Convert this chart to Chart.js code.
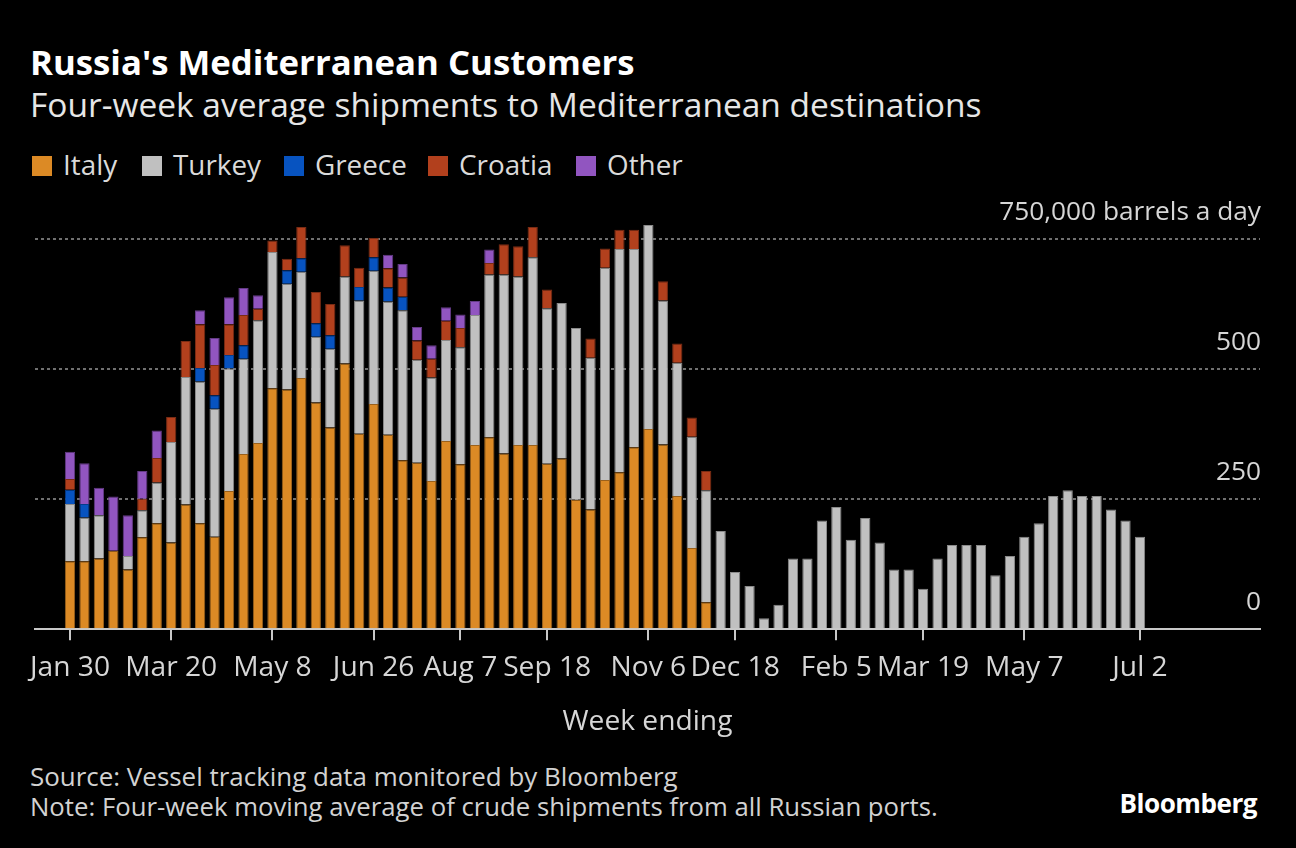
<!DOCTYPE html>
<html>
<head>
<meta charset="utf-8">
<script src="https://cdn.jsdelivr.net/npm/chart.js@4.4.0/dist/chart.umd.min.js"></script>
<style>
  html, body { margin:0; padding:0; background:#000; width:1296px; height:848px; overflow:hidden; font-family:"Open Sans", sans-serif; }
  .t { position:absolute; white-space:nowrap; line-height:1; }
  #title { font-weight:700; color:#ffffff; }
  #subtitle { color:#e6e6e6; }
  .leg { position:absolute; white-space:nowrap; line-height:1; color:#dadada; }
  .box { position:absolute; width:20px; height:20px; }
  #src, #note { color:#d2d2d2; }
  #logo { font-weight:700; color:#ffffff; letter-spacing:-0.5px; }
  #wrap { position:absolute; left:0; top:190px; width:1296px; height:560px; }
</style>
</head>
<body>
<div class="t" id="title">Russia's Mediterranean Customers</div>
<div class="t" id="subtitle">Four-week average shipments to Mediterranean destinations</div>
<div id="legend"></div>
<div id="wrap"><canvas id="c"></canvas></div>
<div class="t" id="src">Source: Vessel tracking data monitored by Bloomberg</div>
<div class="t" id="note">Note: Four-week moving average of crude shipments from all Russian ports.</div>
<div class="t" id="logo">Bloomberg</div>
<script>
// Series names and colours
const seriesNames = ['Italy', 'Turkey', 'Greece', 'Croatia', 'Other'];
const seriesColors = ['#dc8a25', '#c0c0c0', '#0753c0', '#b2401d', '#9155c0'];
const seriesBorders = ['#9a611c', '#8a8a8a', '#053c8a', '#7a2c14', '#643b86'];

// Weekly values (thousand barrels a day), week ending Jan 30 2022 .. Jul 2 2023
const italy = [131,131,136,151,115,177,204,167,240,204,178,266,337,358,463,461,483,436,388,511,376,433,374,325,320,285,362,317,354,369,338,354,354,318,328,249,230,287,302,350,385,355,256,156,52,0,0,0,0,0,0,0,0,0,0,0,0,0,0,0,0,0,0,0,0,0,0,0,0,0,0,0,0,0,0];
const turkey = [110,84,83,0,26,52,78,193,245,272,246,235,183,236,262,203,204,126,151,167,256,256,256,288,198,199,194,225,250,313,344,324,361,299,299,330,292,408,429,381,392,277,256,214,215,189,110,83,21,47,136,136,209,235,172,214,167,115,115,78,136,162,162,162,104,141,178,204,256,267,256,256,230,209,178];
const greece = [27,26,0,0,0,0,0,0,0,26,26,26,26,0,0,26,26,26,26,0,26,26,27,26,0,0,0,0,0,0,0,0,0,0,0,0,0,0,0,0,0,0,0,0,0,0,0,0,0,0,0,0,0,0,0,0,0,0,0,0,0,0,0,0,0,0,0,0,0,0,0,0,0,0,0];
const croatia = [21,0,0,0,0,22,47,48,69,84,58,59,58,22,22,22,60,60,60,60,37,37,37,37,37,36,37,37,0,22,58,58,58,36,0,0,37,37,37,37,0,37,37,37,37,0,0,0,0,0,0,0,0,0,0,0,0,0,0,0,0,0,0,0,0,0,0,0,0,0,0,0,0,0,0];
const other = [52,78,53,104,78,53,53,0,0,27,52,52,52,26,0,0,0,0,0,0,0,0,26,26,26,26,26,26,27,26,0,0,0,0,0,0,0,0,0,0,0,0,0,0,0,0,0,0,0,0,0,0,0,0,0,0,0,0,0,0,0,0,0,0,0,0,0,0,0,0,0,0,0,0,0];

// X-axis tick labels (week index -> label)
const xTickIndex = [0, 7, 14, 21, 27, 33, 40, 46, 53, 59, 66, 74];
const xTickLabels = ['Jan 30', 'Mar 20', 'May 8', 'Jun 26', 'Aug 7', 'Sep 18', 'Nov 6', 'Dec 18', 'Feb 5', 'Mar 19', 'May 7', 'Jul 2'];

// Y-axis ticks
const yTickValues = [0, 250, 500, 750];
const yTickLabels = ['0', '250', '500', '750,000 barrels a day'];

const seriesValues = [italy, turkey, greece, croatia, other];

// ---- text sizing helpers (fit font size to the reference text widths) ----
const FONT = '"Open Sans"';
const mctx = document.createElement('canvas').getContext('2d');
function fitPx(text, weight, target) {
  mctx.font = weight + ' 100px ' + FONT;
  return 100 * target / mctx.measureText(text).width;
}
function placeText(el, weight, target, left, baseline, right) {
  const s = fitPx(el.textContent, weight, target);
  el.style.fontSize = s + 'px';
  el.style.top = (baseline - 0.888 * s) + 'px';
  if (right !== undefined) el.style.right = (1296 - right) + 'px';
  else el.style.left = left + 'px';
}
placeText(document.getElementById('title'), 700, 605, 30, 76);
placeText(document.getElementById('subtitle'), 400, 952, 30, 118);
placeText(document.getElementById('src'), 400, 648, 30, 787);
placeText(document.getElementById('note'), 400, 908, 30, 817);
placeText(document.getElementById('logo'), 700, 142, 0, 813, 1257);

// HTML legend
const legBoxX = [32, 142, 284, 428, 576];
const legSize = fitPx('Turkey', 400, 88);
const leg = document.getElementById('legend');
seriesNames.forEach((n, i) => {
  const b = document.createElement('div');
  b.className = 'box';
  b.style.left = legBoxX[i] + 'px';
  b.style.top = '156px';
  b.style.background = seriesColors[i];
  leg.appendChild(b);
  const t = document.createElement('div');
  t.className = 'leg';
  t.textContent = n;
  t.style.fontSize = legSize + 'px';
  t.style.left = (legBoxX[i] + 31) + 'px';
  t.style.top = (176 - 0.888 * legSize) + 'px';
  leg.appendChild(t);
});

const xTickSize = fitPx('Jan 30', 400, 80);
const xTitleSize = fitPx('Week ending', 400, 170);
const yTickSize = fitPx('750,000 barrels a day', 400, 262);

Chart.defaults.font.family = FONT;

const datasets = seriesNames.map((n, i) => ({
  label: n,
  data: seriesValues[i].map((v, k) => ({ x: k, y: v })),
  backgroundColor: seriesColors[i],
  borderColor: seriesBorders[i],
  borderWidth: 1,
  categoryPercentage: 1,
  barPercentage: 0.71,
  stack: 's'
}));

new Chart(document.getElementById('c'), {
  type: 'bar',
  data: { datasets },
  options: {
    responsive: true,
    maintainAspectRatio: false,
    animation: false,
    layout: { padding: { left: 35, right: 36, top: 0, bottom: 0 } },
    plugins: { legend: { display: false }, tooltip: { enabled: false } },
    scales: {
      x: {
        type: 'linear',
        stacked: true,
        offset: false,
        min: -2.42,
        max: 82.3,
        afterBuildTicks: (s) => { s.ticks = xTickIndex.map(v => ({ value: v })); },
        afterFit: (s) => { s.height = 120.7; s.paddingLeft = 0; s.paddingRight = 0; },
        ticks: {
          autoSkip: false,
          maxRotation: 0,
          minRotation: 0,
          padding: 11,
          color: '#d6d6d6',
          font: { size: xTickSize },
          callback: (v) => { const k = xTickIndex.indexOf(v); return k >= 0 ? xTickLabels[k] : ''; }
        },
        grid: { offset: false, drawOnChartArea: false, drawTicks: true, tickLength: 11, color: '#c8c8c8', lineWidth: 2 },
        border: { display: true, color: '#c8c8c8', width: 2 },
        title: { display: true, text: 'Week ending', color: '#d6d6d6', font: { size: xTitleSize }, padding: { top: 0, bottom: 11 } }
      },
      y: {
        type: 'linear',
        position: 'right',
        stacked: true,
        min: 0,
        max: 844.2,
        afterBuildTicks: (s) => { s.ticks = yTickValues.map(v => ({ value: v })); },
        afterFit: (s) => { s.width = 0; s.paddingTop = 0; s.paddingBottom = 0; },
        ticks: {
          mirror: true,
          padding: 1,
          labelOffset: -27,
          color: '#d6d6d6',
          font: { size: yTickSize },
          callback: (v) => { const k = yTickValues.indexOf(v); return k >= 0 ? yTickLabels[k] : ''; }
        },
        grid: {
          drawTicks: false,
          color: (c) => (c.tick && c.tick.value === 0) ? 'rgba(0,0,0,0)' : '#707070',
          lineWidth: 2
        },
        border: { display: false, dash: [3, 3] }
      }
    }
  }
});
</script>
</body>
</html>
